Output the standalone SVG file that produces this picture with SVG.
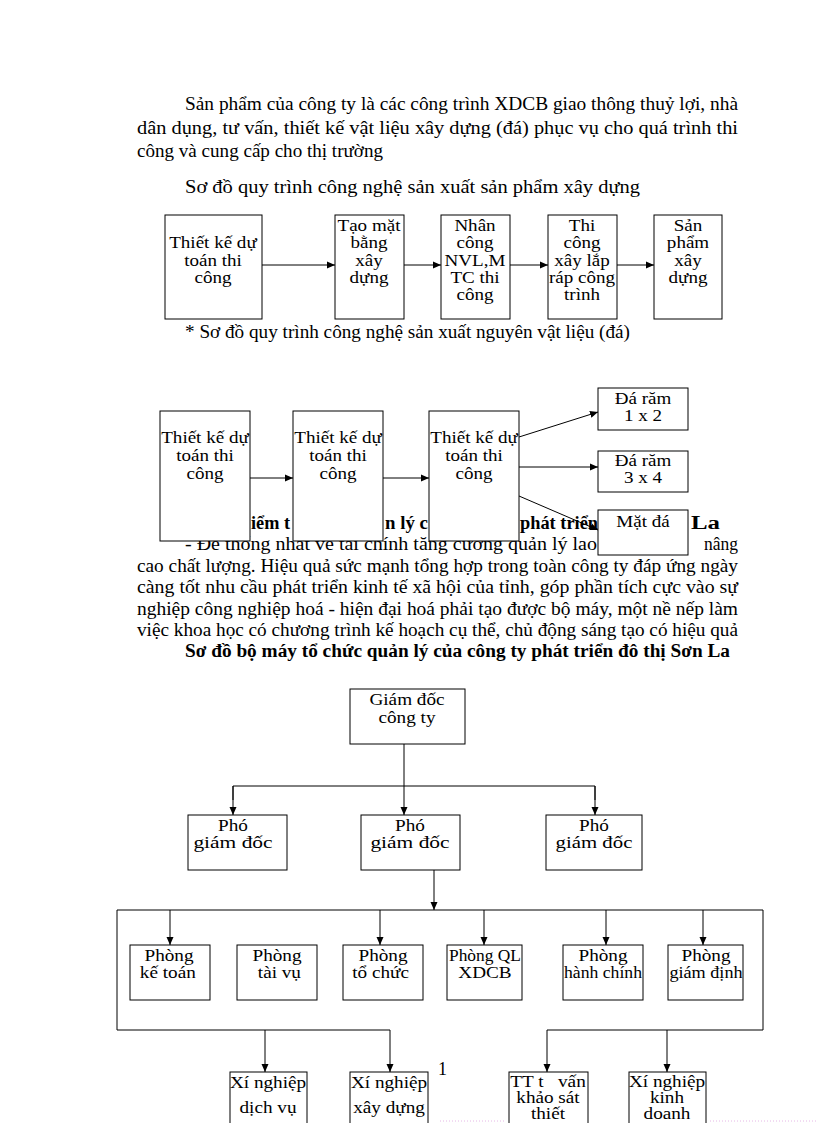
<svg xmlns="http://www.w3.org/2000/svg" width="816" height="1123" viewBox="0 0 816 1123">
<defs>
<marker id="ah" markerWidth="8" markerHeight="8" refX="8" refY="4" orient="auto" markerUnits="userSpaceOnUse">
<path d="M0,0.5 L8,4 L0,7.5 Z" fill="#000"/>
</marker>
<style>
text{font-family:"Liberation Serif","Times New Roman",serif;fill:#000}
.p{font-size:18px}
.b{font-size:18px;font-weight:bold}
.t{font-size:16px;text-anchor:middle}
.box{fill:#fff;stroke:#000;stroke-width:1}
.ln{fill:none;stroke:#000;stroke-width:1}
.ar{fill:none;stroke:#000;stroke-width:1;marker-end:url(#ah)}
</style>
</defs>
<rect width="816" height="1123" fill="#fff"/>

<g id="intro">
<text class="p" x="185" y="110" textLength="553" lengthAdjust="spacingAndGlyphs">Sản phẩm của công ty là các công trình XDCB giao thông thuỷ lợi, nhà</text>
<text class="p" x="137" y="134" textLength="601" lengthAdjust="spacingAndGlyphs">dân dụng, tư vấn, thiết kế vật liệu xây dựng (đá) phục vụ cho quá trình thi</text>
<text class="p" x="137" y="157" textLength="246" lengthAdjust="spacingAndGlyphs">công và cung cấp cho thị trường</text>
<text class="p" x="185" y="193" textLength="455" lengthAdjust="spacingAndGlyphs">Sơ đồ quy trình công nghệ sản xuất sản phẩm xây dựng</text>
</g>

<g id="connectors1">
<line class="ar" x1="262" y1="265" x2="335" y2="265"/>
<line class="ar" x1="404" y1="265" x2="441" y2="265"/>
<line class="ar" x1="510" y1="265" x2="548" y2="265"/>
<line class="ar" x1="617" y1="265" x2="654" y2="265"/>
</g>
<g id="f1a"><rect class="box" x="165" y="215" width="97" height="104"/>
<g transform="matrix(1.19,0,0,1,-40.5,0)"><text class="t" x="213" y="248">Thiết kế dự</text><text class="t" x="213" y="266">toán thi</text><text class="t" x="213" y="283">công</text></g></g>
<g id="f1b"><rect class="box" x="335" y="215" width="69" height="104"/>
<g transform="matrix(1.19,0,0,1,-70.1,0)"><text class="t" x="369" y="231">Tạo mặt</text><text class="t" x="369" y="248">bằng</text><text class="t" x="369" y="266">xây</text><text class="t" x="369" y="283">dựng</text></g></g>
<g id="f1c"><rect class="box" x="441" y="215" width="69" height="104"/>
<g transform="matrix(1.19,0,0,1,-90.25,0)"><text class="t" x="475" y="231">Nhân</text><text class="t" x="475" y="248">công</text><text class="t" x="475" y="266">NVL,M</text><text class="t" x="475" y="283">TC thi</text><text class="t" x="475" y="300">công</text></g></g>
<g id="f1d"><rect class="box" x="548" y="215" width="69" height="104"/>
<g transform="matrix(1.19,0,0,1,-110.6,0)"><text class="t" x="582" y="231">Thi</text><text class="t" x="582" y="248">công</text><text class="t" x="582" y="266">xây lắp</text><text class="t" x="582" y="283">ráp công</text><text class="t" x="582" y="300">trình</text></g></g>
<g id="f1e"><rect class="box" x="654" y="215" width="68" height="104"/>
<g transform="matrix(1.19,0,0,1,-130.7,0)"><text class="t" x="688" y="231">Sản</text><text class="t" x="688" y="248">phẩm</text><text class="t" x="688" y="266">xây</text><text class="t" x="688" y="283">dựng</text></g></g>

<text class="p" x="185" y="338" textLength="445" lengthAdjust="spacingAndGlyphs">* Sơ đồ quy trình công nghệ sản xuất nguyên vật liệu (đá)</text>

<g id="para2">
<text class="b" x="251" y="529" textLength="39" lengthAdjust="spacingAndGlyphs">iểm t</text>
<text class="b" x="385" y="529" textLength="43" lengthAdjust="spacingAndGlyphs">n lý c</text>
<text class="b" x="520" y="529" textLength="78" lengthAdjust="spacingAndGlyphs">phát triển</text>
<text class="b" x="691" y="529" textLength="29" lengthAdjust="spacingAndGlyphs">La</text>
<text class="p" x="185" y="550" textLength="412" lengthAdjust="spacingAndGlyphs">- Để thống nhất về tài chính tăng cường quản lý lao</text>
<text class="p" x="704" y="550" textLength="34" lengthAdjust="spacingAndGlyphs">nâng</text>
<text class="p" x="137" y="571.5" textLength="601" lengthAdjust="spacingAndGlyphs">cao chất lượng. Hiệu quả sức mạnh tổng hợp trong toàn công ty đáp ứng ngày</text>
<text class="p" x="137" y="593" textLength="601" lengthAdjust="spacingAndGlyphs">càng tốt nhu cầu phát triển kinh tế xã hội của tỉnh, góp phần tích cực vào sự</text>
<text class="p" x="137" y="614.5" textLength="601" lengthAdjust="spacingAndGlyphs">nghiệp công nghiệp hoá - hiện đại hoá phải tạo được bộ máy, một nề nếp làm</text>
<text class="p" x="137" y="636" textLength="601" lengthAdjust="spacingAndGlyphs">việc khoa học có chương trình kế hoạch cụ thể, chủ động sáng tạo có hiệu quả</text>
<text class="b" x="185" y="657" textLength="545" lengthAdjust="spacingAndGlyphs">Sơ đồ bộ máy tổ chức quản lý của công ty phát triển đô thị Sơn La</text>
</g>

<g id="connectors2">
<line class="ar" x1="250" y1="478" x2="293" y2="478"/>
<line class="ar" x1="383" y1="478" x2="429" y2="478"/>
<line class="ar" x1="519" y1="437" x2="598" y2="412"/>
<line class="ar" x1="519" y1="467" x2="598" y2="467"/>
<line class="ar" x1="519" y1="496" x2="598" y2="530"/>
</g>
<g id="f2a"><rect class="box" x="160" y="411" width="90" height="130"/>
<g transform="matrix(1.19,0,0,1,-38.95,0)"><text class="t" x="205" y="443">Thiết kế dự</text><text class="t" x="205" y="461">toán thi</text><text class="t" x="205" y="479">công</text></g></g>
<g id="f2b"><rect class="box" x="293" y="411" width="90" height="130"/>
<g transform="matrix(1.19,0,0,1,-64.2,0)"><text class="t" x="338" y="443">Thiết kế dự</text><text class="t" x="338" y="461">toán thi</text><text class="t" x="338" y="479">công</text></g></g>
<g id="f2c"><rect class="box" x="429" y="411" width="90" height="130"/>
<g transform="matrix(1.19,0,0,1,-90.06,0)"><text class="t" x="474" y="443">Thiết kế dự</text><text class="t" x="474" y="461">toán thi</text><text class="t" x="474" y="479">công</text></g></g>
<g id="f2d"><rect class="box" x="598" y="388" width="90" height="42"/>
<g transform="matrix(1.19,0,0,1,-122.17,0)"><text class="t" x="643" y="404">Đá răm</text><text class="t" x="643" y="421">1 x 2</text></g></g>
<g id="f2e"><rect class="box" x="598" y="451" width="90" height="41"/>
<g transform="matrix(1.19,0,0,1,-122.17,0)"><text class="t" x="643" y="466">Đá răm</text><text class="t" x="643" y="483">3 x 4</text></g></g>
<g id="f2f"><rect class="box" x="598" y="510" width="90" height="45"/>
<g transform="matrix(1.19,0,0,1,-122.17,0)"><text class="t" x="643" y="527">Mặt đá</text></g></g>

<g id="connectors3">
<line class="ar" x1="404" y1="744" x2="404" y2="815"/>
<polyline class="ln" points="233,800 233,786 595,786 595,800"/>
<line class="ar" x1="233" y1="786" x2="233" y2="815"/>
<line class="ar" x1="595" y1="786" x2="595" y2="815"/>
<line class="ar" x1="434" y1="870" x2="434" y2="910"/>
<polyline class="ln" points="390,1030 117,1030 117,910 763,910 763,1030 547,1030"/>
<line class="ar" x1="170" y1="910" x2="170" y2="945"/>
<line class="ar" x1="380" y1="910" x2="380" y2="945"/>
<line class="ar" x1="484" y1="910" x2="484" y2="945"/>
<line class="ar" x1="606" y1="910" x2="606" y2="945"/>
<line class="ar" x1="703" y1="910" x2="703" y2="945"/>
<line class="ar" x1="265" y1="1030" x2="265" y2="1072"/>
<line class="ar" x1="390" y1="1030" x2="390" y2="1072"/>
<line class="ar" x1="547" y1="1030" x2="547" y2="1072"/>
<line class="ar" x1="667" y1="1030" x2="667" y2="1072"/>
<line x1="440" y1="1121" x2="505" y2="1121" stroke="#e6b8e6" stroke-width="1" stroke-dasharray="1,2"/>
<line x1="710" y1="1121" x2="816" y2="1121" stroke="#e6b8e6" stroke-width="1" stroke-dasharray="1,2"/>
</g>

<g id="gd"><rect class="box" x="350" y="689" width="115" height="55"/>
<g transform="matrix(1.2,0,0,1,-81.4,0)"><text class="t" x="407" y="705">Giám đốc</text><text class="t" x="407" y="723">công ty</text></g></g>
<g id="pgd1"><rect class="box" x="188" y="815" width="99" height="55"/>
<g transform="matrix(1.2,0,0,1,-46.6,0)"><text class="t" x="233" y="831">Phó</text><text class="t" x="233" y="848" textLength="66" lengthAdjust="spacingAndGlyphs">giám đốc</text></g></g>
<g id="pgd2"><rect class="box" x="361" y="815" width="99" height="55"/>
<g transform="matrix(1.2,0,0,1,-82,0)"><text class="t" x="410" y="831">Phó</text><text class="t" x="410" y="848" textLength="66" lengthAdjust="spacingAndGlyphs">giám đốc</text></g></g>
<g id="pgd3"><rect class="box" x="546" y="815" width="96" height="55"/>
<g transform="matrix(1.2,0,0,1,-118.8,0)"><text class="t" x="594" y="831">Phó</text><text class="t" x="594" y="848" textLength="64" lengthAdjust="spacingAndGlyphs">giám đốc</text></g></g>

<g id="p1"><rect class="box" x="130" y="945" width="80" height="55"/>
<g transform="matrix(1.2,0,0,1,-33.8,0)"><text class="t" x="169" y="961">Phòng</text><text class="t" x="168" y="978">kế toán</text></g></g>
<g id="p2"><rect class="box" x="237" y="945" width="80" height="55"/>
<g transform="matrix(1.2,0,0,1,-55.4,0)"><text class="t" x="277" y="961">Phòng</text><text class="t" x="279" y="978">tài vụ</text></g></g>
<g id="p3"><rect class="box" x="343" y="945" width="80" height="55"/>
<g transform="matrix(1.2,0,0,1,-76.6,0)"><text class="t" x="383" y="961">Phòng</text><text class="t" x="381" y="978">tổ chức</text></g></g>
<g id="p4"><rect class="box" x="447" y="945" width="75" height="55"/>
<g transform="matrix(1.2,0,0,1,-97,0)"><text class="t" x="485" y="961" textLength="60" lengthAdjust="spacingAndGlyphs">Phòng QL</text><text class="t" x="485" y="978">XDCB</text></g></g>
<g id="p5"><rect class="box" x="563" y="945" width="80" height="55"/>
<g transform="matrix(1.2,0,0,1,-120.6,0)"><text class="t" x="603" y="961">Phòng</text><text class="t" x="603" y="978" textLength="65" lengthAdjust="spacingAndGlyphs">hành chính</text></g></g>
<g id="p6"><rect class="box" x="668" y="945" width="75" height="55"/>
<g transform="matrix(1.2,0,0,1,-141.2,0)"><text class="t" x="706" y="961">Phòng</text><text class="t" x="706" y="978" textLength="61" lengthAdjust="spacingAndGlyphs">giám định</text></g></g>

<g id="x1"><rect class="box" x="230" y="1072" width="77" height="60"/>
<g transform="matrix(1.2,0,0,1,-53.6,0)"><text class="t" x="268" y="1088">Xí nghiệp</text><text class="t" x="268" y="1113">dịch vụ</text></g></g>
<g id="x2"><rect class="box" x="350" y="1072" width="78" height="60"/>
<g transform="matrix(1.2,0,0,1,-77.8,0)"><text class="t" x="389" y="1088">Xí nghiệp</text><text class="t" x="389" y="1113">xây dựng</text></g></g>
<g id="x3"><rect class="box" x="509" y="1072" width="79" height="60"/>
<g transform="matrix(1.2,0,0,1,-109.6,0)"><text class="t" x="548" y="1087" textLength="63" lengthAdjust="spacingAndGlyphs" xml:space="preserve">TT t   vấn</text><text class="t" x="548" y="1103">khảo sát</text><text class="t" x="548" y="1119">thiết</text></g></g>
<g id="x4"><rect class="box" x="629" y="1072" width="77" height="60"/>
<g transform="matrix(1.2,0,0,1,-133.4,0)"><text class="t" x="667" y="1087">Xí nghiệp</text><text class="t" x="667" y="1103">kinh</text><text class="t" x="667" y="1119">doanh</text></g></g>

<text class="p" x="438" y="1075">1</text>
</svg>
